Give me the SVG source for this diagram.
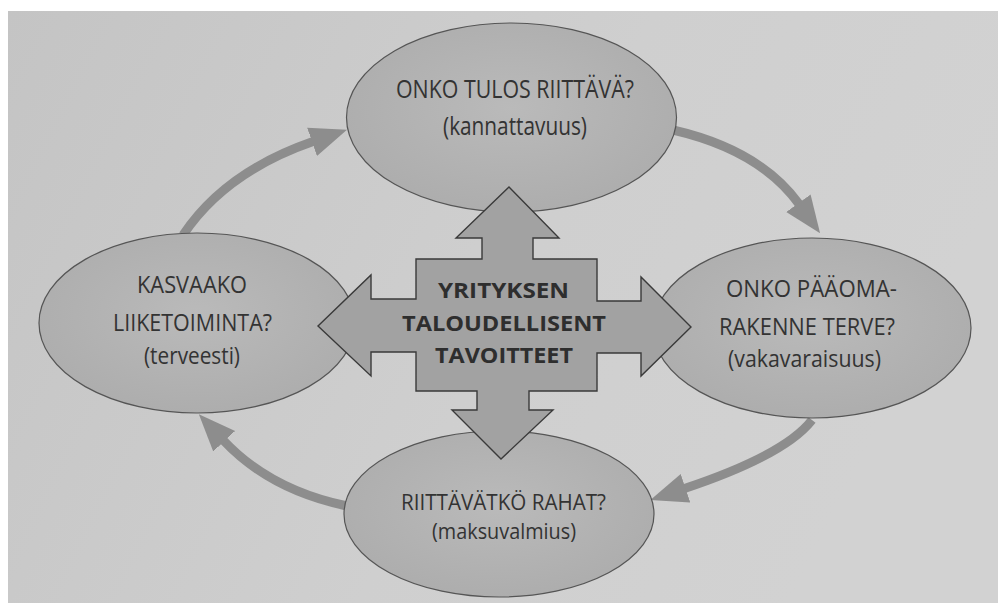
<svg xmlns="http://www.w3.org/2000/svg" width="998" height="603" viewBox="0 0 998 603">
  <defs>
    <linearGradient id="bg" x1="0" y1="0" x2="1" y2="0.3">
      <stop offset="0" stop-color="#c4c4c4"/>
      <stop offset="0.6" stop-color="#cfcfcf"/>
      <stop offset="1" stop-color="#d2d2d2"/>
    </linearGradient>
    <radialGradient id="ell" cx="0.5" cy="0.45" r="0.6">
      <stop offset="0" stop-color="#bababa"/>
      <stop offset="1" stop-color="#acacac"/>
    </radialGradient>
    <marker id="head" markerUnits="userSpaceOnUse" markerWidth="40" markerHeight="34" refX="1" refY="16" orient="auto" viewBox="0 0 40 34">
      <path d="M0,1 L37,16 L0,31 z" fill="#8d8d8d"/>
    </marker>
    <style>
      .node ellipse { fill: url(#ell); stroke: #555; stroke-width: 1.2; }
      .t { font-family: "Open Sans", "Liberation Sans", sans-serif; fill: #333; text-anchor: middle; }
      .q { font-size: 23px; }
      .s { font-size: 21px; }
      .big { font-size: 25px; }
      .c { font-size: 22px; font-weight: bold; fill: #2e2e2e; }
      .arc { fill: none; stroke: #8d8d8d; stroke-width: 9; marker-end: url(#head); }
    </style>
  </defs>

  <rect x="0" y="0" width="998" height="603" fill="#ffffff"/>
  <rect x="8" y="11" width="990" height="592" fill="url(#bg)"/>

  <g id="connectors">
    <path class="arc" d="M183,235 Q225,172 313,141.5"/>
    <path class="arc" d="M673,130 Q760,150 799,204"/>
    <path class="arc" d="M812,420 Q785,455 684.5,488.5"/>
    <path class="arc" d="M347,506 Q270,490 223.5,440.5"/>
  </g>

  <g id="node-kannattavuus" class="node">
    <ellipse cx="511.5" cy="117.5" rx="165" ry="94.5"/>
    <text class="t big" x="515" y="98" textLength="238" lengthAdjust="spacingAndGlyphs">ONKO TULOS RIITTÄVÄ?</text>
    <text class="t big" x="515" y="135" textLength="144" lengthAdjust="spacingAndGlyphs">(kannattavuus)</text>
  </g>

  <g id="node-vakavaraisuus" class="node">
    <ellipse cx="812" cy="328" rx="159" ry="90"/>
    <text class="t q" x="811.5" y="297" textLength="171" lengthAdjust="spacingAndGlyphs">ONKO PÄÄOMA-</text>
    <text class="t q" x="807" y="335" textLength="176" lengthAdjust="spacingAndGlyphs">RAKENNE TERVE?</text>
    <text class="t q" x="804.5" y="367" textLength="153" lengthAdjust="spacingAndGlyphs">(vakavaraisuus)</text>
  </g>

  <g id="node-maksuvalmius" class="node">
    <ellipse cx="499" cy="514" rx="155" ry="83"/>
    <text class="t s" x="503.5" y="510" textLength="205" lengthAdjust="spacingAndGlyphs">RIITTÄVÄTKÖ RAHAT?</text>
    <text class="t s" x="504" y="539" textLength="144" lengthAdjust="spacingAndGlyphs">(maksuvalmius)</text>
  </g>

  <g id="node-terveesti" class="node">
    <ellipse cx="197" cy="323" rx="158" ry="90"/>
    <text class="t q" x="192" y="293" textLength="110" lengthAdjust="spacingAndGlyphs">KASVAAKO</text>
    <text class="t q" x="192.5" y="331" textLength="159" lengthAdjust="spacingAndGlyphs">LIIKETOIMINTA?</text>
    <text class="t q" x="192" y="364" textLength="96" lengthAdjust="spacingAndGlyphs">(terveesti)</text>
  </g>

  <g id="node-tavoitteet">
    <polygon fill="#a2a2a2" stroke="#3a3a3a" stroke-width="1.4" stroke-linejoin="miter"
      points="509,187 559,238 533,238 533,259 597,259 597,301 641,301 641,277 691,327 641,376 641,353 597,353 597,391 529,391 529,410 553,410 501,459 452,410 477,410 477,391 416,391 416,352 371,352 371,376 318,326 371,275 371,299 416,299 416,259 482,259 482,238 456,238"/>
    <text class="t c" x="503.5" y="298" textLength="131" lengthAdjust="spacingAndGlyphs">YRITYKSEN</text>
    <text class="t c" x="504" y="331" textLength="204" lengthAdjust="spacingAndGlyphs">TALOUDELLISENT</text>
    <text class="t c" x="504" y="363" textLength="138" lengthAdjust="spacingAndGlyphs">TAVOITTEET</text>
  </g>
</svg>
